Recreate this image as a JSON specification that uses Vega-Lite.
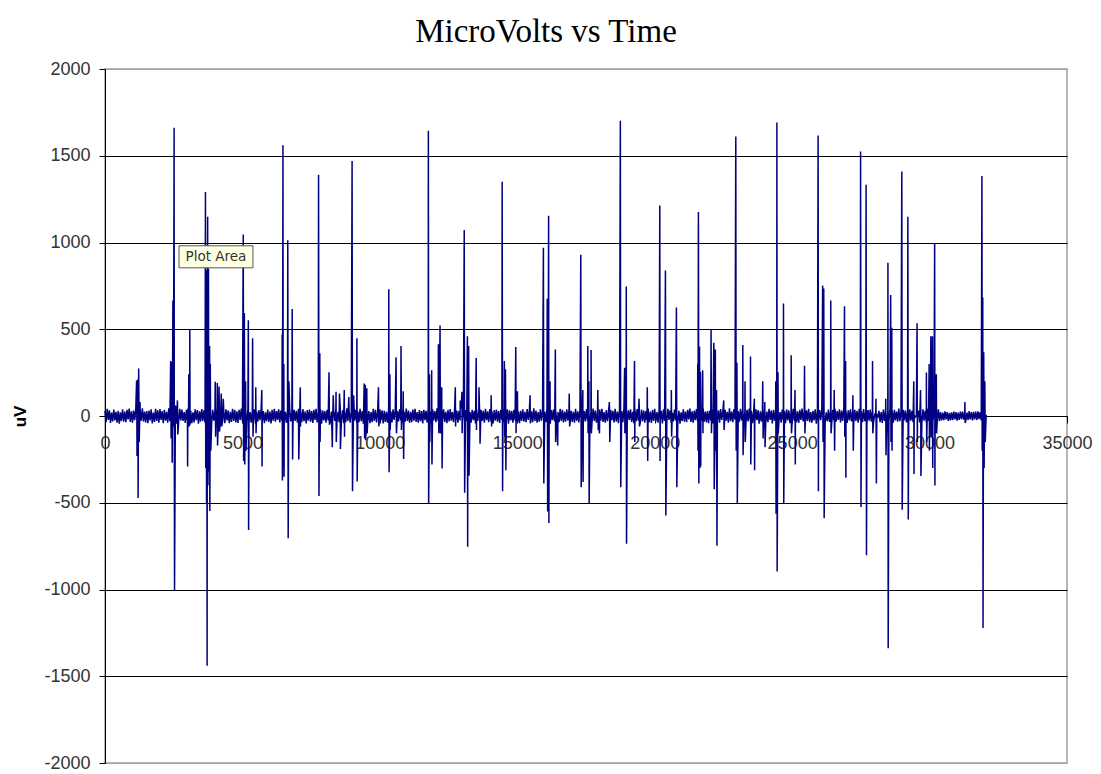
{
"$schema":"https://vega.github.io/schema/vega-lite/v6.json",
"width":962,"height":694,
"autosize":{"type":"none"},
"padding":{"left":105,"top":69,"right":34,"bottom":11},
"background":"white",
"title":{"text":"MicroVolts vs Time","font":"Liberation Serif","fontSize":33,"fontWeight":"normal","color":"black","anchor":"middle","baseline":"alphabetic","offset":-15,"dx":-40},
"config":{"view":{"stroke":"#a0a0a0","strokeWidth":1.5},
"axis":{"labelFont":"Liberation Sans","labelFontSize":18,"labelColor":"#333333","domainColor":"black","tickColor":"black","domainWidth":1,"tickWidth":1}},
"layer":[
{"data":{"values":[
{"t":0,"v":28},{"t":40,"v":-35},{"t":80,"v":41},{"t":120,"v":-22},{"t":160,"v":33},{"t":200,"v":-40},{"t":240,"v":19},{"t":280,"v":-31},{"t":320,"v":37},{"t":360,"v":-26},{"t":400,"v":24},{"t":440,"v":-38},{"t":480,"v":30},{"t":520,"v":-44},{"t":560,"v":21},{"t":600,"v":-29},{"t":640,"v":39},{"t":680,"v":-33},{"t":720,"v":26},{"t":760,"v":-36},
{"t":800,"v":35},{"t":840,"v":-20},{"t":880,"v":43},{"t":920,"v":-34},{"t":960,"v":27},{"t":1000,"v":-39},{"t":1040,"v":31},{"t":1080,"v":-24},{"t":1120,"v":40},{"t":1160,"v":-30},{"t":1200,"v":22},{"t":1240,"v":-42},{"t":1280,"v":34},{"t":1320,"v":-27},{"t":1360,"v":45},{"t":1400,"v":-32},{"t":1440,"v":25},{"t":1480,"v":-37},{"t":1520,"v":29},{"t":1560,"v":-41},
{"t":1600,"v":31},{"t":1640,"v":-25},{"t":1680,"v":38},{"t":1720,"v":-43},{"t":1760,"v":20},{"t":1800,"v":-34},{"t":1840,"v":42},{"t":1880,"v":-28},{"t":1920,"v":33},{"t":1960,"v":-38},{"t":2000,"v":40},{"t":2040,"v":-23},{"t":2080,"v":29},{"t":2120,"v":-41},{"t":2160,"v":36},{"t":2200,"v":-27},{"t":2240,"v":24},{"t":2280,"v":-39},{"t":2320,"v":44},{"t":2360,"v":-30},
{"t":2400,"v":26},{"t":2440,"v":-36},{"t":2480,"v":39},{"t":2520,"v":-21},{"t":2560,"v":32},{"t":2600,"v":-44},{"t":2640,"v":28},{"t":2680,"v":-33},{"t":2720,"v":41},{"t":2760,"v":-25},{"t":2800,"v":37},{"t":2840,"v":-29},{"t":2880,"v":23},{"t":2920,"v":-40},{"t":2960,"v":35},{"t":3000,"v":-31},{"t":3040,"v":43},{"t":3080,"v":-26},{"t":3120,"v":30},{"t":3160,"v":-42},
{"t":3200,"v":21},{"t":3240,"v":-37},{"t":3280,"v":38},{"t":3320,"v":-24},{"t":3360,"v":34},{"t":3400,"v":-45},{"t":3440,"v":27},{"t":3480,"v":-32},{"t":3520,"v":40},{"t":3560,"v":-28},{"t":3600,"v":33},{"t":3640,"v":-39},{"t":3680,"v":25},{"t":3720,"v":-35},{"t":3760,"v":42},{"t":3800,"v":-22},{"t":3840,"v":31},{"t":3880,"v":-43},{"t":3920,"v":36},{"t":3960,"v":-27},
{"t":4000,"v":29},{"t":4040,"v":-33},{"t":4080,"v":44},{"t":4120,"v":-30},{"t":4160,"v":22},{"t":4200,"v":-38},{"t":4240,"v":37},{"t":4280,"v":-25},{"t":4320,"v":28},{"t":4360,"v":-41},{"t":4400,"v":39},{"t":4440,"v":-26},{"t":4480,"v":32},{"t":4520,"v":-42},{"t":4560,"v":24},{"t":4600,"v":-34},{"t":4640,"v":41},{"t":4680,"v":-29},{"t":4720,"v":35},{"t":4760,"v":-37},
{"t":4800,"v":27},{"t":4840,"v":-40},{"t":4880,"v":36},{"t":4920,"v":-23},{"t":4960,"v":43},{"t":5000,"v":-31},{"t":5040,"v":26},{"t":5080,"v":-38},{"t":5120,"v":33},{"t":5160,"v":-28},{"t":5200,"v":42},{"t":5240,"v":-35},{"t":5280,"v":23},{"t":5320,"v":-39},{"t":5360,"v":30},{"t":5400,"v":-26},{"t":5440,"v":38},{"t":5480,"v":-44},{"t":5520,"v":25},{"t":5560,"v":-32},
{"t":5600,"v":34},{"t":5640,"v":-24},{"t":5680,"v":40},{"t":5720,"v":-36},{"t":5760,"v":29},{"t":5800,"v":-41},{"t":5840,"v":21},{"t":5880,"v":-30},{"t":5920,"v":37},{"t":5960,"v":-34},{"t":6000,"v":26},{"t":6040,"v":-43},{"t":6080,"v":35},{"t":6120,"v":-27},{"t":6160,"v":41},{"t":6200,"v":-33},{"t":6240,"v":28},{"t":6280,"v":-22},{"t":6320,"v":39},{"t":6360,"v":-37},
{"t":6400,"v":31},{"t":6440,"v":-29},{"t":6480,"v":45},{"t":6520,"v":-35},{"t":6560,"v":24},{"t":6600,"v":-40},{"t":6640,"v":33},{"t":6680,"v":-26},{"t":6720,"v":38},{"t":6760,"v":-31},{"t":6800,"v":22},{"t":6840,"v":-42},{"t":6880,"v":36},{"t":6920,"v":-28},{"t":6960,"v":30},{"t":7000,"v":-38},{"t":7040,"v":42},{"t":7080,"v":-24},{"t":7120,"v":27},{"t":7160,"v":-36},
{"t":7200,"v":40},{"t":7240,"v":-30},{"t":7280,"v":25},{"t":7320,"v":-43},{"t":7360,"v":34},{"t":7400,"v":-27},{"t":7440,"v":37},{"t":7480,"v":-33},{"t":7520,"v":29},{"t":7560,"v":-40},{"t":7600,"v":35},{"t":7640,"v":-22},{"t":7680,"v":41},{"t":7720,"v":-37},{"t":7760,"v":23},{"t":7800,"v":-31},{"t":7840,"v":39},{"t":7880,"v":-44},{"t":7920,"v":32},{"t":7960,"v":-26},
{"t":8000,"v":28},{"t":8040,"v":-39},{"t":8080,"v":36},{"t":8120,"v":-25},{"t":8160,"v":43},{"t":8200,"v":-34},{"t":8240,"v":26},{"t":8280,"v":-41},{"t":8320,"v":30},{"t":8360,"v":-29},{"t":8400,"v":38},{"t":8440,"v":-32},{"t":8480,"v":24},{"t":8520,"v":-36},{"t":8560,"v":40},{"t":8600,"v":-23},{"t":8640,"v":33},{"t":8680,"v":-42},{"t":8720,"v":27},{"t":8760,"v":-35},
{"t":8800,"v":44},{"t":8840,"v":-28},{"t":8880,"v":31},{"t":8920,"v":-38},{"t":8960,"v":22},{"t":9000,"v":-33},{"t":9040,"v":39},{"t":9080,"v":-27},{"t":9120,"v":35},{"t":9160,"v":-40},{"t":9200,"v":25},{"t":9240,"v":-36},{"t":9280,"v":42},{"t":9320,"v":-30},{"t":9360,"v":28},{"t":9400,"v":-44},{"t":9440,"v":34},{"t":9480,"v":-24},{"t":9520,"v":37},{"t":9560,"v":-31},
{"t":9600,"v":29},{"t":9640,"v":-41},{"t":9680,"v":23},{"t":9720,"v":-35},{"t":9760,"v":41},{"t":9800,"v":-28},{"t":9840,"v":36},{"t":9880,"v":-37},{"t":9920,"v":26},{"t":9960,"v":-32},{"t":10000,"v":39},{"t":10040,"v":-25},{"t":10080,"v":33},{"t":10120,"v":-43},{"t":10160,"v":30},{"t":10200,"v":-34},{"t":10240,"v":24},{"t":10280,"v":-39},{"t":10320,"v":42},{"t":10360,"v":-29},
{"t":10400,"v":27},{"t":10440,"v":-37},{"t":10480,"v":38},{"t":10520,"v":-23},{"t":10560,"v":35},{"t":10600,"v":-42},{"t":10640,"v":29},{"t":10680,"v":-31},{"t":10720,"v":40},{"t":10760,"v":-26},{"t":10800,"v":32},{"t":10840,"v":-40},{"t":10880,"v":26},{"t":10920,"v":-33},{"t":10960,"v":43},{"t":11000,"v":-28},{"t":11040,"v":31},{"t":11080,"v":-38},{"t":11120,"v":24},{"t":11160,"v":-36},
{"t":11200,"v":37},{"t":11240,"v":-27},{"t":11280,"v":41},{"t":11320,"v":-34},{"t":11360,"v":23},{"t":11400,"v":-39},{"t":11440,"v":34},{"t":11480,"v":-30},{"t":11520,"v":28},{"t":11560,"v":-43},{"t":11600,"v":36},{"t":11640,"v":-24},{"t":11680,"v":30},{"t":11720,"v":-37},{"t":11760,"v":42},{"t":11800,"v":-32},{"t":11840,"v":25},{"t":11880,"v":-41},{"t":11920,"v":38},{"t":11960,"v":-26},
{"t":12000,"v":29},{"t":12040,"v":-35},{"t":12080,"v":44},{"t":12120,"v":-29},{"t":12160,"v":27},{"t":12200,"v":-38},{"t":12240,"v":33},{"t":12280,"v":-23},{"t":12320,"v":39},{"t":12360,"v":-34},{"t":12400,"v":24},{"t":12440,"v":-42},{"t":12480,"v":35},{"t":12520,"v":-31},{"t":12560,"v":40},{"t":12600,"v":-27},{"t":12640,"v":22},{"t":12680,"v":-36},{"t":12720,"v":37},{"t":12760,"v":-30},
{"t":12800,"v":31},{"t":12840,"v":-39},{"t":12880,"v":28},{"t":12920,"v":-25},{"t":12960,"v":43},{"t":13000,"v":-35},{"t":13040,"v":26},{"t":13080,"v":-40},{"t":13120,"v":34},{"t":13160,"v":-28},{"t":13200,"v":41},{"t":13240,"v":-33},{"t":13280,"v":23},{"t":13320,"v":-38},{"t":13360,"v":36},{"t":13400,"v":-24},{"t":13440,"v":30},{"t":13480,"v":-43},{"t":13520,"v":38},{"t":13560,"v":-29},
{"t":13600,"v":22},{"t":13640,"v":-42},{"t":13680,"v":36},{"t":13720,"v":-28},{"t":13760,"v":30},{"t":13800,"v":-38},{"t":13840,"v":42},{"t":13880,"v":-24},{"t":13920,"v":27},{"t":13960,"v":-36},{"t":14000,"v":40},{"t":14040,"v":-30},{"t":14080,"v":25},{"t":14120,"v":-43},{"t":14160,"v":34},{"t":14200,"v":-27},{"t":14240,"v":37},{"t":14280,"v":-33},{"t":14320,"v":29},{"t":14360,"v":-40},
{"t":14400,"v":35},{"t":14440,"v":-22},{"t":14480,"v":41},{"t":14520,"v":-37},{"t":14560,"v":23},{"t":14600,"v":-31},{"t":14640,"v":39},{"t":14680,"v":-44},{"t":14720,"v":32},{"t":14760,"v":-26},{"t":14800,"v":28},{"t":14840,"v":-39},{"t":14880,"v":36},{"t":14920,"v":-25},{"t":14960,"v":43},{"t":15000,"v":-34},{"t":15040,"v":26},{"t":15080,"v":-41},{"t":15120,"v":30},{"t":15160,"v":-29},
{"t":15200,"v":38},{"t":15240,"v":-32},{"t":15280,"v":24},{"t":15320,"v":-36},{"t":15360,"v":40},{"t":15400,"v":-23},{"t":15440,"v":33},{"t":15480,"v":-42},{"t":15520,"v":27},{"t":15560,"v":-35},{"t":15600,"v":44},{"t":15640,"v":-28},{"t":15680,"v":31},{"t":15720,"v":-38},{"t":15760,"v":22},{"t":15800,"v":-33},{"t":15840,"v":39},{"t":15880,"v":-27},{"t":15920,"v":35},{"t":15960,"v":-40},
{"t":16000,"v":25},{"t":16040,"v":-36},{"t":16080,"v":42},{"t":16120,"v":-30},{"t":16160,"v":28},{"t":16200,"v":-44},{"t":16240,"v":34},{"t":16280,"v":-24},{"t":16320,"v":37},{"t":16360,"v":-31},{"t":16400,"v":29},{"t":16440,"v":-41},{"t":16480,"v":23},{"t":16520,"v":-35},{"t":16560,"v":41},{"t":16600,"v":-28},{"t":16640,"v":36},{"t":16680,"v":-37},{"t":16720,"v":26},{"t":16760,"v":-32},
{"t":16800,"v":39},{"t":16840,"v":-25},{"t":16880,"v":33},{"t":16920,"v":-43},{"t":16960,"v":30},{"t":17000,"v":-34},{"t":17040,"v":24},{"t":17080,"v":-39},{"t":17120,"v":42},{"t":17160,"v":-29},{"t":17200,"v":27},{"t":17240,"v":-37},{"t":17280,"v":38},{"t":17320,"v":-23},{"t":17360,"v":35},{"t":17400,"v":-42},{"t":17440,"v":29},{"t":17480,"v":-31},{"t":17520,"v":40},{"t":17560,"v":-26},
{"t":17600,"v":32},{"t":17640,"v":-40},{"t":17680,"v":26},{"t":17720,"v":-33},{"t":17760,"v":43},{"t":17800,"v":-28},{"t":17840,"v":31},{"t":17880,"v":-38},{"t":17920,"v":24},{"t":17960,"v":-36},{"t":18000,"v":37},{"t":18040,"v":-27},{"t":18080,"v":41},{"t":18120,"v":-34},{"t":18160,"v":23},{"t":18200,"v":-39},{"t":18240,"v":34},{"t":18280,"v":-30},{"t":18320,"v":28},{"t":18360,"v":-43},
{"t":18400,"v":36},{"t":18440,"v":-24},{"t":18480,"v":30},{"t":18520,"v":-37},{"t":18560,"v":42},{"t":18600,"v":-32},{"t":18640,"v":25},{"t":18680,"v":-41},{"t":18720,"v":38},{"t":18760,"v":-26},{"t":18800,"v":29},{"t":18840,"v":-35},{"t":18880,"v":44},{"t":18920,"v":-29},{"t":18960,"v":27},{"t":19000,"v":-38},{"t":19040,"v":33},{"t":19080,"v":-23},{"t":19120,"v":39},{"t":19160,"v":-34},
{"t":19200,"v":24},{"t":19240,"v":-42},{"t":19280,"v":35},{"t":19320,"v":-31},{"t":19360,"v":40},{"t":19400,"v":-27},{"t":19440,"v":22},{"t":19480,"v":-36},{"t":19520,"v":37},{"t":19560,"v":-30},{"t":19600,"v":31},{"t":19640,"v":-39},{"t":19680,"v":28},{"t":19720,"v":-25},{"t":19760,"v":43},{"t":19800,"v":-35},{"t":19840,"v":26},{"t":19880,"v":-40},{"t":19920,"v":34},{"t":19960,"v":-28},
{"t":20000,"v":41},{"t":20040,"v":-33},{"t":20080,"v":23},{"t":20120,"v":-38},{"t":20160,"v":36},{"t":20200,"v":-24},{"t":20240,"v":30},{"t":20280,"v":-43},{"t":20320,"v":38},{"t":20360,"v":-29},{"t":20400,"v":28},{"t":20440,"v":-35},{"t":20480,"v":41},{"t":20520,"v":-22},{"t":20560,"v":33},{"t":20600,"v":-40},{"t":20640,"v":19},{"t":20680,"v":-31},{"t":20720,"v":37},{"t":20760,"v":-26},
{"t":20800,"v":24},{"t":20840,"v":-38},{"t":20880,"v":30},{"t":20920,"v":-44},{"t":20960,"v":21},{"t":21000,"v":-29},{"t":21040,"v":39},{"t":21080,"v":-33},{"t":21120,"v":26},{"t":21160,"v":-36},{"t":21200,"v":35},{"t":21240,"v":-20},{"t":21280,"v":43},{"t":21320,"v":-34},{"t":21360,"v":27},{"t":21400,"v":-39},{"t":21440,"v":31},{"t":21480,"v":-24},{"t":21520,"v":40},{"t":21560,"v":-30},
{"t":21600,"v":22},{"t":21640,"v":-42},{"t":21680,"v":34},{"t":21720,"v":-27},{"t":21760,"v":45},{"t":21800,"v":-32},{"t":21840,"v":25},{"t":21880,"v":-37},{"t":21920,"v":29},{"t":21960,"v":-41},{"t":22000,"v":31},{"t":22040,"v":-25},{"t":22080,"v":38},{"t":22120,"v":-43},{"t":22160,"v":20},{"t":22200,"v":-34},{"t":22240,"v":42},{"t":22280,"v":-28},{"t":22320,"v":33},{"t":22360,"v":-38},
{"t":22400,"v":40},{"t":22440,"v":-23},{"t":22480,"v":29},{"t":22520,"v":-41},{"t":22560,"v":36},{"t":22600,"v":-27},{"t":22640,"v":24},{"t":22680,"v":-39},{"t":22720,"v":44},{"t":22760,"v":-30},{"t":22800,"v":26},{"t":22840,"v":-36},{"t":22880,"v":39},{"t":22920,"v":-21},{"t":22960,"v":32},{"t":23000,"v":-44},{"t":23040,"v":28},{"t":23080,"v":-33},{"t":23120,"v":41},{"t":23160,"v":-25},
{"t":23200,"v":37},{"t":23240,"v":-29},{"t":23280,"v":23},{"t":23320,"v":-40},{"t":23360,"v":35},{"t":23400,"v":-31},{"t":23440,"v":43},{"t":23480,"v":-26},{"t":23520,"v":30},{"t":23560,"v":-42},{"t":23600,"v":21},{"t":23640,"v":-37},{"t":23680,"v":38},{"t":23720,"v":-24},{"t":23760,"v":34},{"t":23800,"v":-45},{"t":23840,"v":27},{"t":23880,"v":-32},{"t":23920,"v":40},{"t":23960,"v":-28},
{"t":24000,"v":33},{"t":24040,"v":-39},{"t":24080,"v":25},{"t":24120,"v":-35},{"t":24160,"v":42},{"t":24200,"v":-22},{"t":24240,"v":31},{"t":24280,"v":-43},{"t":24320,"v":36},{"t":24360,"v":-27},{"t":24400,"v":29},{"t":24440,"v":-33},{"t":24480,"v":44},{"t":24520,"v":-30},{"t":24560,"v":22},{"t":24600,"v":-38},{"t":24640,"v":37},{"t":24680,"v":-25},{"t":24720,"v":28},{"t":24760,"v":-41},
{"t":24800,"v":39},{"t":24840,"v":-26},{"t":24880,"v":32},{"t":24920,"v":-42},{"t":24960,"v":24},{"t":25000,"v":-34},{"t":25040,"v":41},{"t":25080,"v":-29},{"t":25120,"v":35},{"t":25160,"v":-37},{"t":25200,"v":27},{"t":25240,"v":-40},{"t":25280,"v":36},{"t":25320,"v":-23},{"t":25360,"v":43},{"t":25400,"v":-31},{"t":25440,"v":26},{"t":25480,"v":-38},{"t":25520,"v":33},{"t":25560,"v":-28},
{"t":25600,"v":42},{"t":25640,"v":-35},{"t":25680,"v":23},{"t":25720,"v":-39},{"t":25760,"v":30},{"t":25800,"v":-26},{"t":25840,"v":38},{"t":25880,"v":-44},{"t":25920,"v":25},{"t":25960,"v":-32},{"t":26000,"v":34},{"t":26040,"v":-24},{"t":26080,"v":40},{"t":26120,"v":-36},{"t":26160,"v":29},{"t":26200,"v":-41},{"t":26240,"v":21},{"t":26280,"v":-30},{"t":26320,"v":37},{"t":26360,"v":-34},
{"t":26400,"v":26},{"t":26440,"v":-43},{"t":26480,"v":35},{"t":26520,"v":-27},{"t":26560,"v":41},{"t":26600,"v":-33},{"t":26640,"v":28},{"t":26680,"v":-22},{"t":26720,"v":39},{"t":26760,"v":-37},{"t":26800,"v":31},{"t":26840,"v":-29},{"t":26880,"v":45},{"t":26920,"v":-35},{"t":26960,"v":24},{"t":27000,"v":-40},{"t":27040,"v":33},{"t":27080,"v":-26},{"t":27120,"v":38},{"t":27160,"v":-31},
{"t":27200,"v":22},{"t":27240,"v":-42},{"t":27280,"v":36},{"t":27320,"v":-28},{"t":27360,"v":30},{"t":27400,"v":-38},{"t":27440,"v":42},{"t":27480,"v":-24},{"t":27520,"v":27},{"t":27560,"v":-36},{"t":27600,"v":40},{"t":27640,"v":-30},{"t":27680,"v":25},{"t":27720,"v":-43},{"t":27760,"v":34},{"t":27800,"v":-27},{"t":27840,"v":37},{"t":27880,"v":-33},{"t":27920,"v":29},{"t":27960,"v":-40},
{"t":28000,"v":6},{"t":28040,"v":-5},{"t":28080,"v":7},{"t":28120,"v":-4},{"t":28160,"v":30},{"t":28200,"v":-36},{"t":28240,"v":22},{"t":28280,"v":-40},{"t":28320,"v":37},{"t":28360,"v":-28},{"t":28400,"v":31},{"t":28440,"v":-39},{"t":28480,"v":26},{"t":28520,"v":-33},{"t":28560,"v":43},{"t":28600,"v":-30},{"t":28640,"v":28},{"t":28680,"v":-38},{"t":28720,"v":35},{"t":28760,"v":-25},
{"t":28800,"v":26},{"t":28840,"v":-33},{"t":28880,"v":43},{"t":28920,"v":-30},{"t":28960,"v":28},{"t":29000,"v":-38},{"t":29040,"v":35},{"t":29080,"v":-25},{"t":29120,"v":32},{"t":29160,"v":-37},{"t":29200,"v":24},{"t":29240,"v":-41},{"t":29280,"v":38},{"t":29320,"v":-27},{"t":29360,"v":30},{"t":29400,"v":-35},{"t":29440,"v":5},{"t":29480,"v":-6},{"t":29520,"v":4},{"t":29560,"v":-7},
{"t":29600,"v":32},{"t":29640,"v":-37},{"t":29680,"v":24},{"t":29720,"v":-41},{"t":29760,"v":38},{"t":29800,"v":-27},{"t":29840,"v":30},{"t":29880,"v":-35},{"t":29920,"v":41},{"t":29960,"v":-29},{"t":30000,"v":36},{"t":30040,"v":-24},{"t":30080,"v":40},{"t":30120,"v":-33},{"t":30160,"v":27},{"t":30200,"v":-42},{"t":30240,"v":31},{"t":30280,"v":-26},{"t":30320,"v":38},{"t":30360,"v":-30},
{"t":30400,"v":22},{"t":30440,"v":-26},{"t":30480,"v":19},{"t":30520,"v":-24},{"t":30560,"v":27},{"t":30600,"v":-20},{"t":30640,"v":23},{"t":30680,"v":-28},{"t":30720,"v":18},{"t":30760,"v":-25},{"t":30800,"v":21},{"t":30840,"v":-24},{"t":30880,"v":26},{"t":30920,"v":-19},{"t":30960,"v":22},{"t":31000,"v":-27},{"t":31040,"v":20},{"t":31080,"v":-23},{"t":31120,"v":25},{"t":31160,"v":-18},
{"t":31200,"v":26},{"t":31240,"v":-21},{"t":31280,"v":24},{"t":31320,"v":-27},{"t":31360,"v":20},{"t":31400,"v":-23},{"t":31440,"v":28},{"t":31480,"v":-19},{"t":31520,"v":22},{"t":31560,"v":-26},{"t":31600,"v":24},{"t":31640,"v":-20},{"t":31680,"v":25},{"t":31720,"v":-22},{"t":31760,"v":27},{"t":31800,"v":-18},{"t":31840,"v":23},{"t":31880,"v":-26},{"t":31920,"v":21},{"t":31960,"v":-24},
{"t":32000,"v":15},
{"t":1150,"v":204},{"t":1165,"v":-230},{"t":1190,"v":210},{"t":1205,"v":-472},{"t":1225,"v":274},{"t":1245,"v":-150},{"t":1275,"v":80},
{"t":2390,"v":317},{"t":2405,"v":-130},{"t":2425,"v":310},{"t":2445,"v":-270},{"t":2470,"v":665},{"t":2490,"v":-60},{"t":2515,"v":1661},{"t":2530,"v":-1004},{"t":2565,"v":60},{"t":2635,"v":90},{"t":2650,"v":-107},
{"t":3005,"v":-291},{"t":3015,"v":40},{"t":3050,"v":241},{"t":3065,"v":-60},{"t":3085,"v":496},{"t":3095,"v":-50},
{"t":3655,"v":1291},{"t":3665,"v":-300},{"t":3685,"v":840},{"t":3695,"v":-500},{"t":3705,"v":820},{"t":3715,"v":-1439},{"t":3735,"v":1148},{"t":3745,"v":-400},{"t":3765,"v":850},{"t":3775,"v":-320},{"t":3805,"v":404},{"t":3815,"v":-548},{"t":3830,"v":300},{"t":3850,"v":-200},
{"t":4010,"v":198},{"t":4025,"v":-120},{"t":4085,"v":190},{"t":4095,"v":-170},{"t":4150,"v":170},{"t":4165,"v":-90},{"t":4230,"v":130},{"t":4250,"v":-60},{"t":4305,"v":100},
{"t":5030,"v":1046},{"t":5045,"v":-259},{"t":5070,"v":593},{"t":5085,"v":-280},{"t":5115,"v":200},{"t":5130,"v":-200},{"t":5215,"v":552},{"t":5225,"v":-657},{"t":5370,"v":448},{"t":5385,"v":-120},
{"t":5485,"v":165},{"t":5495,"v":-100},{"t":5705,"v":150},{"t":5715,"v":-291},
{"t":6445,"v":470},{"t":6455,"v":-372},{"t":6475,"v":1561},{"t":6485,"v":-300},{"t":6505,"v":300},{"t":6515,"v":-350},{"t":6650,"v":1013},{"t":6665,"v":-704},{"t":6690,"v":200},{"t":6810,"v":617},{"t":6825,"v":-250},
{"t":7050,"v":-250},{"t":7105,"v":165},{"t":7115,"v":-60},
{"t":7770,"v":1391},{"t":7785,"v":-461},{"t":7815,"v":361},{"t":7825,"v":-150},
{"t":8150,"v":252},{"t":8165,"v":-50},{"t":8270,"v":-180},{"t":8305,"v":120},{"t":8405,"v":140},{"t":8415,"v":-150},{"t":8530,"v":130},{"t":8565,"v":-190},{"t":8705,"v":150},{"t":8715,"v":-120},{"t":8870,"v":110},
{"t":8990,"v":1470},{"t":9005,"v":-433},{"t":9045,"v":120},{"t":9165,"v":448},{"t":9175,"v":-378},
{"t":9430,"v":187},{"t":9445,"v":-130},{"t":9470,"v":180},{"t":9485,"v":-140},{"t":9525,"v":160},{"t":9535,"v":-100},
{"t":9950,"v":165},{"t":9965,"v":-60},
{"t":10325,"v":730},{"t":10335,"v":-324},{"t":10365,"v":241},{"t":10375,"v":-80},{"t":10590,"v":339},{"t":10605,"v":-100},{"t":10770,"v":404},{"t":10785,"v":-80},{"t":10850,"v":143},{"t":10865,"v":-248},
{"t":11765,"v":1644},{"t":11775,"v":-502},{"t":11805,"v":241},{"t":11815,"v":-150},{"t":11885,"v":263},{"t":11895,"v":-280},
{"t":12130,"v":413},{"t":12145,"v":-100},{"t":12190,"v":522},{"t":12205,"v":-100},{"t":12250,"v":165},{"t":12265,"v":-302},
{"t":12745,"v":165},{"t":12755,"v":-60},{"t":12925,"v":90},{"t":12985,"v":140},{"t":12995,"v":-100},
{"t":13070,"v":1072},{"t":13085,"v":-443},{"t":13185,"v":459},{"t":13195,"v":-754},{"t":13230,"v":404},{"t":13245,"v":-345},
{"t":13505,"v":335},{"t":13515,"v":-80},{"t":13605,"v":165},{"t":13645,"v":-160},
{"t":14050,"v":120},{"t":14065,"v":-60},
{"t":14450,"v":1350},{"t":14465,"v":-433},{"t":14530,"v":317},{"t":14545,"v":-120},{"t":14570,"v":270},{"t":14585,"v":-313},
{"t":14945,"v":398},{"t":14955,"v":-100},{"t":15005,"v":143},{"t":15015,"v":-30},
{"t":15465,"v":120},{"t":15475,"v":-40},
{"t":15950,"v":970},{"t":15965,"v":-389},{"t":16090,"v":676},{"t":16105,"v":-550},{"t":16140,"v":1154},{"t":16150,"v":-617},{"t":16190,"v":200},
{"t":16385,"v":383},{"t":16395,"v":-150},{"t":16470,"v":-170},
{"t":16890,"v":130},{"t":16905,"v":-60},
{"t":17310,"v":930},{"t":17325,"v":-411},{"t":17385,"v":150},{"t":17395,"v":-380},{"t":17565,"v":404},{"t":17575,"v":-100},{"t":17605,"v":200},{"t":17615,"v":-502},{"t":17685,"v":380},{"t":17695,"v":-100},
{"t":17930,"v":150},{"t":17945,"v":-80},{"t":17990,"v":-100},
{"t":18350,"v":80},{"t":18365,"v":-150},
{"t":18750,"v":1702},{"t":18765,"v":-411},{"t":18905,"v":278},{"t":18915,"v":-100},{"t":18965,"v":746},{"t":18975,"v":-737},{"t":19265,"v":317},{"t":19275,"v":-150},{"t":19430,"v":100},{"t":19445,"v":-60},
{"t":19730,"v":165},{"t":19745,"v":-259},
{"t":20185,"v":1213},{"t":20195,"v":-259},{"t":20390,"v":839},{"t":20405,"v":-574},{"t":20605,"v":150},{"t":20615,"v":-120},{"t":20790,"v":626},{"t":20805,"v":-411},
{"t":21565,"v":300},{"t":21575,"v":-200},{"t":21590,"v":1176},{"t":21605,"v":-389},{"t":21630,"v":400},{"t":21645,"v":-300},{"t":21665,"v":253},{"t":21675,"v":-290},{"t":21745,"v":263},{"t":21755,"v":-100},
{"t":22050,"v":496},{"t":22065,"v":-100},{"t":22150,"v":422},{"t":22165,"v":-422},{"t":22205,"v":383},{"t":22215,"v":-200},{"t":22250,"v":150},{"t":22265,"v":-748},
{"t":22510,"v":90},{"t":22525,"v":-80},
{"t":22950,"v":1611},{"t":22965,"v":-200},{"t":22990,"v":307},{"t":23005,"v":-502},{"t":23205,"v":409},{"t":23215,"v":-226},{"t":23285,"v":200},{"t":23295,"v":-150},{"t":23485,"v":343},{"t":23495,"v":-280},{"t":23625,"v":100},{"t":23635,"v":-313},
{"t":23930,"v":200},{"t":23945,"v":-130},{"t":24005,"v":80},{"t":24015,"v":-180},
{"t":24405,"v":200},{"t":24415,"v":-563},{"t":24445,"v":1691},{"t":24455,"v":-896},{"t":24485,"v":252},{"t":24495,"v":-100},{"t":24685,"v":648},{"t":24695,"v":-502},
{"t":24965,"v":350},{"t":24975,"v":-100},{"t":25105,"v":150},{"t":25115,"v":-280},{"t":25450,"v":289},{"t":25465,"v":-100},
{"t":25945,"v":1617},{"t":25955,"v":-433},{"t":26110,"v":752},{"t":26125,"v":-150},{"t":26150,"v":735},{"t":26165,"v":-589},{"t":26405,"v":665},{"t":26415,"v":-100},{"t":26530,"v":150},{"t":26545,"v":-200},
{"t":26905,"v":633},{"t":26915,"v":-120},{"t":26945,"v":317},{"t":26955,"v":-356},{"t":27210,"v":120},{"t":27225,"v":-200},
{"t":27490,"v":1524},{"t":27505,"v":-524},{"t":27690,"v":1333},{"t":27705,"v":-802},{"t":27925,"v":317},{"t":27935,"v":-100},{"t":28050,"v":100},{"t":28065,"v":-389},
{"t":28405,"v":100},{"t":28415,"v":-226},{"t":28485,"v":883},{"t":28495,"v":-1339},{"t":28585,"v":698},{"t":28595,"v":-150},{"t":28625,"v":509},{"t":28635,"v":-200},
{"t":28990,"v":1409},{"t":29005,"v":-541},{"t":29210,"v":1148},{"t":29225,"v":-596},{"t":29425,"v":200},{"t":29435,"v":-335},{"t":29545,"v":535},{"t":29555,"v":-150},{"t":29670,"v":150},{"t":29685,"v":-346},
{"t":29885,"v":250},{"t":29895,"v":-150},{"t":29985,"v":300},{"t":29995,"v":-200},{"t":30045,"v":459},{"t":30055,"v":-120},{"t":30105,"v":459},{"t":30115,"v":-300},{"t":30185,"v":996},{"t":30195,"v":-400},{"t":30245,"v":240},{"t":30255,"v":-100},
{"t":31285,"v":80},{"t":31295,"v":-40},
{"t":31905,"v":1383},{"t":31915,"v":-200},{"t":31935,"v":683},{"t":31945,"v":-1222},{"t":31970,"v":367},{"t":31985,"v":-300},{"t":32010,"v":200},{"t":32025,"v":-150},{"t":32060,"v":8}
]},
"mark":{"type":"line","color":"#000080","strokeWidth":1.5},
"encoding":{
"x":{"field":"t","type":"quantitative","scale":{"domain":[0,35000],"nice":false,"zero":false},
"axis":{"title":null,"orient":"bottom","offset":-347,"grid":false,"values":[0,5000,10000,15000,20000,25000,30000,35000],"labelExpr":"'' + datum.value","tickSize":7,"labelPadding":11,"labelFlush":false,"labelOverlap":false,"labelBound":false}},
"y":{"field":"v","type":"quantitative","scale":{"domain":[-2000,2000],"nice":false},
"axis":{"title":"uV","titleFont":"Liberation Sans","titleFontSize":17,"titleFontWeight":"bold","titleColor":"black","titleX":-85,"titleY":347,"titleAngle":-90,"titleAlign":"center","titleBaseline":"middle",
"values":[-2000,-1500,-1000,-500,0,500,1000,1500,2000],"labelExpr":"'' + datum.value","tickSize":6,"labelPadding":9,"grid":true,
"gridColor":{"condition":{"test":"abs(datum.value) == 2000","value":"#a0a0a0"},"value":"black"},"gridWidth":1}}
}},
{"data":{"values":[{"x1":2692,"x2":5384,"y1":854,"y2":981}]},
"mark":{"type":"rect","fill":"#ffffe1","stroke":"#555555","strokeWidth":1},
"encoding":{"x":{"field":"x1","type":"quantitative"},"x2":{"field":"x2"},"y":{"field":"y1","type":"quantitative"},"y2":{"field":"y2"}}},
{"data":{"values":[{"xm":4038,"ym":917,"label":"Plot Area"}]},
"mark":{"type":"text","font":"DejaVu Sans","fontSize":13.5,"color":"#333333","align":"center","baseline":"middle"},
"encoding":{"x":{"field":"xm","type":"quantitative"},"y":{"field":"ym","type":"quantitative"},"text":{"field":"label"}}}
]
}
